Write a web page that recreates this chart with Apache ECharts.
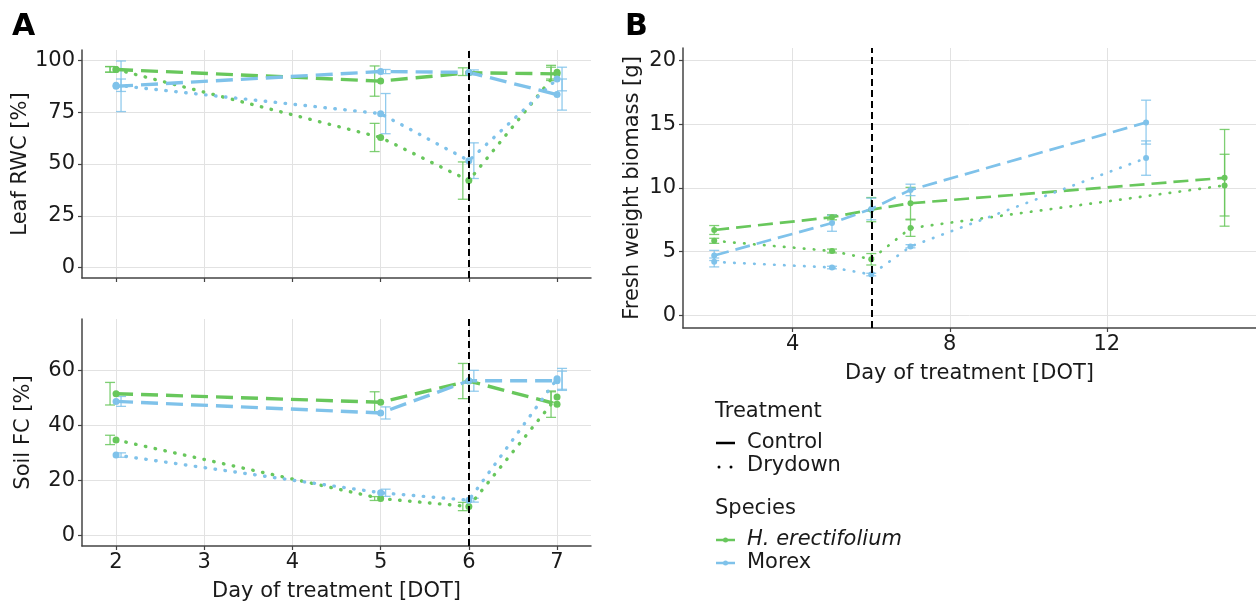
<!DOCTYPE html>
<html>
<head>
<meta charset="utf-8">
<script src="https://cdn.jsdelivr.net/npm/echarts@6/dist/echarts.min.js"></script>
<style>
html,body{margin:0;padding:0;background:#fff;}
#chart{width:1256px;height:603px;}
</style>
</head>
<body>
<div id="chart"></div>
<script>
// ---------- DATA ----------
const daysA = [2, 5, 6, 7];

// Leaf RWC [%]
const rwcHerControl   = [95.6, 90.0, 94.0, 93.5];
const rwcHerControlLo = [94.3, 82.7, 92.7, 90.3];
const rwcHerControlHi = [97.0, 97.3, 96.4, 96.7];
const rwcHerDry       = [95.6, 62.8, 42.0, 94.3];
const rwcHerDryLo     = [94.3, 56.0, 33.0, 91.0];
const rwcHerDryHi     = [97.0, 69.6, 51.0, 97.6];
const rwcMorControl   = [87.5, 94.6, 94.2, 83.5];
const rwcMorControlLo = [75.3, 93.6, 93.0, 76.0];
const rwcMorControlHi = [99.7, 95.6, 95.4, 91.0];
const rwcMorDry       = [88.0, 74.3, 51.6, 91.0];
const rwcMorDryLo     = [85.0, 64.6, 43.0, 85.3];
const rwcMorDryHi     = [91.0, 84.0, 60.2, 96.7];

// Soil FC [%]
const fcHerControl   = [51.6, 48.5, 56.2, 47.8];
const fcHerControlLo = [47.5, 44.7, 49.8, 43.0];
const fcHerControlHi = [55.7, 52.3, 62.6, 52.6];
const fcHerDry       = [34.8, 13.5, 10.6, 50.4];
const fcHerDryLo     = [33.1, 12.8, 9.1, 48.5];
const fcHerDryHi     = [36.5, 14.2, 12.1, 52.3];
const fcMorControl   = [48.8, 44.6, 56.3, 56.3];
const fcMorControlLo = [47.0, 42.4, 52.5, 52.8];
const fcMorControlHi = [50.6, 46.8, 60.1, 59.8];
const fcMorDry       = [29.3, 15.6, 12.9, 57.0];
const fcMorDryLo     = [28.5, 14.3, 12.2, 53.2];
const fcMorDryHi     = [30.1, 16.9, 13.6, 60.8];

// Fresh weight biomass [g]
const daysBHer = [2, 5, 6, 7, 15];
const daysBMor = [2, 5, 6, 7, 13];
const fwHerControl   = [6.7, 7.7, 8.3, 8.8, 10.8];
const fwHerControlLo = [6.35, 7.5, 7.35, 7.55, 7.0];
const fwHerControlHi = [7.05, 7.9, 9.25, 10.05, 14.6];
const fwHerDry       = [5.85, 5.05, 4.4, 6.85, 10.2];
const fwHerDryLo     = [5.65, 4.9, 3.95, 6.2, 7.8];
const fwHerDryHi     = [6.05, 5.2, 4.85, 7.5, 12.65];
const fwMorControl   = [4.7, 7.25, 8.35, 9.85, 15.15];
const fwMorControlLo = [4.3, 6.6, 7.5, 9.4, 13.45];
const fwMorControlHi = [5.1, 7.85, 9.2, 10.3, 16.9];
const fwMorDry       = [4.2, 3.75, 3.2, 5.4, 12.35];
const fwMorDryLo     = [3.8, 3.65, 3.1, 5.3, 11.0];
const fwMorDryHi     = [4.5, 3.85, 3.3, 5.55, 13.7];

const ticksAx = [2, 3, 4, 5, 6, 7];
const ticksRWC = [0, 25, 50, 75, 100];
const ticksFC = [0, 20, 40, 60];
const ticksBx = [4, 8, 12];
const ticksFW = [0, 5, 10, 15, 20];
const treatmentDay = 6;

// ---------- STYLE ----------
const GREEN = '#68c75c';
const BLUE = '#7fc2ea';
const FONT = '"DejaVu Sans", sans-serif';
const TXT = '#1a1a1a';
const FS = 21;

const pairs = (xs, ys) => xs.map((x, i) => [x, ys[i]]);
const triples = (xs, lo, hi) => xs.map((x, i) => [x, lo[i], hi[i]]);

function errSeries(name, xi, yi, xs, lo, hi, color, offset) {
  return {
    type: 'custom', name: name, xAxisIndex: xi, yAxisIndex: yi, silent: true, z: 3,
    encode: {x: 0, y: [1, 2]},
    data: triples(xs, lo, hi),
    renderItem: function (params, api) {
      const a = api.coord([api.value(0), api.value(1)]);
      const b = api.coord([api.value(0), api.value(2)]);
      const cx = a[0] + offset, w = 5;
      const st = {stroke: color, lineWidth: 1.3, opacity: 0.85};
      return {type: 'group', children: [
        {type: 'line', shape: {x1: cx, y1: a[1], x2: cx, y2: b[1]}, style: st},
        {type: 'line', shape: {x1: cx - w, y1: a[1], x2: cx + w, y2: a[1]}, style: st},
        {type: 'line', shape: {x1: cx - w, y1: b[1], x2: cx + w, y2: b[1]}, style: st}
      ]};
    }
  };
}

function lineSeries(name, xi, yi, xs, ys, color, dry, w, sym, dash) {
  return {
    type: 'line', name: name, xAxisIndex: xi, yAxisIndex: yi, z: 4,
    data: pairs(xs, ys),
    symbol: 'circle', symbolSize: sym, showSymbol: true,
    itemStyle: {color: color},
    lineStyle: dry ? {color: color, width: w, type: [0.5, 9.5], cap: 'round'}
                   : {color: color, width: w, type: dash},
    emphasis: {disabled: true}
  };
}

function vline(xi, yi) {
  return {
    type: 'line', xAxisIndex: xi, yAxisIndex: yi, data: [], z: 5,
    markLine: {silent: true, symbol: 'none', label: {show: false}, animation: false,
      lineStyle: {color: '#000', type: [7, 4], width: 2},
      data: [{xAxis: treatmentDay}]}
  };
}

function xAx(gi, min, max, ticks, showLabel, name) {
  return {
    type: 'value', gridIndex: gi, min: min, max: max,
    name: name || '', nameLocation: 'middle', nameGap: 35,
    nameTextStyle: {fontSize: FS, color: TXT, fontFamily: FONT},
    axisLine: {onZero: false, lineStyle: {color: '#444', width: 1.5}},
    axisTick: {show: true, length: 4, customValues: ticks, lineStyle: {color: '#444', width: 1.2}},
    axisLabel: {show: showLabel, customValues: ticks, fontSize: FS, color: TXT, fontFamily: FONT, margin: 6},
    splitLine: {show: true, lineStyle: {color: '#e2e2e2', width: 1}}
  };
}
function yAx(gi, min, max, ticks, name, gap) {
  return {
    type: 'value', gridIndex: gi, min: min, max: max,
    name: name, nameLocation: 'middle', nameGap: gap, nameRotate: 90,
    nameTextStyle: {fontSize: FS, color: TXT, fontFamily: FONT},
    axisLine: {show: true, onZero: false, lineStyle: {color: '#444', width: 1.5}},
    axisTick: {show: true, length: 4, customValues: ticks, lineStyle: {color: '#444', width: 1.2}},
    axisLabel: {customValues: ticks, fontSize: FS, color: TXT, fontFamily: FONT, margin: 7},
    splitLine: {show: true, lineStyle: {color: '#e2e2e2', width: 1}}
  };
}

const chart = echarts.init(document.getElementById('chart'), null, {renderer: 'canvas'});

const option = {
  animation: false,
  backgroundColor: '#fff',
  textStyle: {fontFamily: FONT},
  grid: [
    {left: 82, top: 50, width: 509, height: 228},
    {left: 82, top: 319, width: 509, height: 228},
    {left: 683, top: 48, width: 573, height: 280}
  ],
  xAxis: [
    xAx(0, 1.614, 7.385, ticksAx, false),
    xAx(1, 1.614, 7.385, ticksAx, true, 'Day of treatment [DOT]'),
    xAx(2, 1.205, 15.80, ticksBx, true, 'Day of treatment [DOT]')
  ],
  yAxis: [
    yAx(0, -5, 105, ticksRWC, 'Leaf RWC [%]', 48),
    yAx(1, -3.75, 78.75, ticksFC, 'Soil FC [%]', 48),
    yAx(2, -1, 21, ticksFW, 'Fresh weight biomass [g]', 40)
  ],
  series: [
    vline(0, 0), vline(1, 1), vline(2, 2),
    // Panel A top
    errSeries('e1', 0, 0, daysA, rwcHerControlLo, rwcHerControlHi, GREEN, -6),
    errSeries('e2', 0, 0, daysA, rwcHerDryLo, rwcHerDryHi, GREEN, -6),
    errSeries('e3', 0, 0, daysA, rwcMorControlLo, rwcMorControlHi, BLUE, 5),
    errSeries('e4', 0, 0, daysA, rwcMorDryLo, rwcMorDryHi, BLUE, 5),
    lineSeries('H. erectifolium Control', 0, 0, daysA, rwcHerControl, GREEN, false, 3.4, 7, [17, 8]),
    lineSeries('H. erectifolium Drydown', 0, 0, daysA, rwcHerDry, GREEN, true, 3.4, 7),
    lineSeries('Morex Control', 0, 0, daysA, rwcMorControl, BLUE, false, 3.4, 7, [17, 8]),
    lineSeries('Morex Drydown', 0, 0, daysA, rwcMorDry, BLUE, true, 3.4, 7),
    // Panel A bottom
    errSeries('f1', 1, 1, daysA, fcHerControlLo, fcHerControlHi, GREEN, -6),
    errSeries('f2', 1, 1, daysA, fcHerDryLo, fcHerDryHi, GREEN, -6),
    errSeries('f3', 1, 1, daysA, fcMorControlLo, fcMorControlHi, BLUE, 5),
    errSeries('f4', 1, 1, daysA, fcMorDryLo, fcMorDryHi, BLUE, 5),
    lineSeries('H. erectifolium Control FC', 1, 1, daysA, fcHerControl, GREEN, false, 3.4, 7, [17, 8]),
    lineSeries('H. erectifolium Drydown FC', 1, 1, daysA, fcHerDry, GREEN, true, 3.4, 7),
    lineSeries('Morex Control FC', 1, 1, daysA, fcMorControl, BLUE, false, 3.4, 7, [17, 8]),
    lineSeries('Morex Drydown FC', 1, 1, daysA, fcMorDry, BLUE, true, 3.4, 7),
    // Panel B
    errSeries('g1', 2, 2, daysBHer, fwHerControlLo, fwHerControlHi, GREEN, 0),
    errSeries('g2', 2, 2, daysBHer, fwHerDryLo, fwHerDryHi, GREEN, 0),
    errSeries('g3', 2, 2, daysBMor, fwMorControlLo, fwMorControlHi, BLUE, 0),
    errSeries('g4', 2, 2, daysBMor, fwMorDryLo, fwMorDryHi, BLUE, 0),
    lineSeries('H. erectifolium Control FW', 2, 2, daysBHer, fwHerControl, GREEN, false, 2.7, 6, [15, 7]),
    lineSeries('H. erectifolium Drydown FW', 2, 2, daysBHer, fwHerDry, GREEN, true, 2.7, 6),
    lineSeries('Morex Control FW', 2, 2, daysBMor, fwMorControl, BLUE, false, 2.7, 6, [15, 7]),
    lineSeries('Morex Drydown FW', 2, 2, daysBMor, fwMorDry, BLUE, true, 2.7, 6)
  ],
  graphic: [
    {type: 'text', x: 12, y: 27, style: {text: 'A', font: 'bold 30px ' + FONT, fill: '#000', verticalAlign: 'middle'}},
    {type: 'text', x: 625, y: 27, style: {text: 'B', font: 'bold 30px ' + FONT, fill: '#000', verticalAlign: 'middle'}},
    // legend: Treatment
    {type: 'text', x: 715, y: 412, style: {text: 'Treatment', font: FS + 'px ' + FONT, fill: TXT, verticalAlign: 'middle'}},
    {type: 'line', shape: {x1: 716, y1: 443, x2: 735, y2: 443}, style: {stroke: '#000', lineWidth: 2.5}},
    {type: 'text', x: 747, y: 443, style: {text: 'Control', font: FS + 'px ' + FONT, fill: TXT, verticalAlign: 'middle'}},
    {type: 'circle', shape: {cx: 719, cy: 467, r: 1.5}, style: {fill: '#000'}},
    {type: 'circle', shape: {cx: 731, cy: 467, r: 1.5}, style: {fill: '#000'}},
    {type: 'text', x: 747, y: 466, style: {text: 'Drydown', font: FS + 'px ' + FONT, fill: TXT, verticalAlign: 'middle'}},
    // legend: Species
    {type: 'text', x: 715, y: 509, style: {text: 'Species', font: FS + 'px ' + FONT, fill: TXT, verticalAlign: 'middle'}},
    {type: 'line', shape: {x1: 716, y1: 540, x2: 735, y2: 540}, style: {stroke: GREEN, lineWidth: 2.5}},
    {type: 'circle', shape: {cx: 725.5, cy: 540, r: 2.5}, style: {fill: GREEN}},
    {type: 'text', x: 747, y: 540, style: {text: 'H. erectifolium', font: 'italic ' + FS + 'px ' + FONT, fill: TXT, verticalAlign: 'middle'}},
    {type: 'line', shape: {x1: 716, y1: 563, x2: 735, y2: 563}, style: {stroke: BLUE, lineWidth: 2.5}},
    {type: 'circle', shape: {cx: 725.5, cy: 563, r: 2.5}, style: {fill: BLUE}},
    {type: 'text', x: 747, y: 563, style: {text: 'Morex', font: FS + 'px ' + FONT, fill: TXT, verticalAlign: 'middle'}}
  ]
};
chart.setOption(option);
</script>
</body>
</html>
